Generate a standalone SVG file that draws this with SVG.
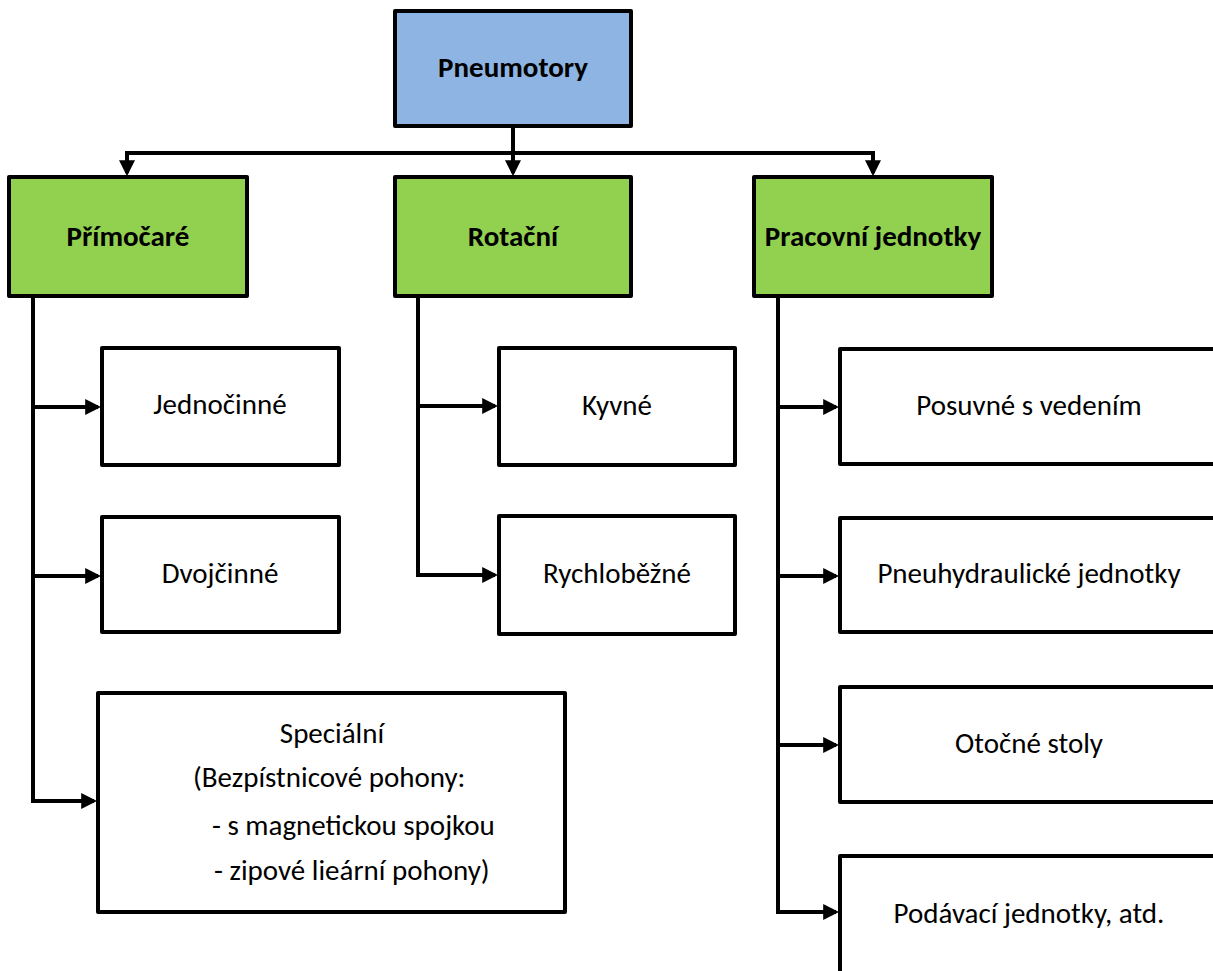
<svg xmlns="http://www.w3.org/2000/svg" width="1213" height="971" viewBox="0 0 1213 971">
  <defs>
    <marker id="arrow" markerWidth="4" markerHeight="4" refX="3.2" refY="2" orient="auto" markerUnits="strokeWidth">
      <path d="M0,0 L4,2 L0,4 Z" fill="#000"/>
    </marker>
    <style>
      .box { stroke: #000; stroke-width: 4; stroke-linejoin: round; }
      .root { fill: #8EB4E3; }
      .cat { fill: #92D050; }
      .leaf { fill: #FFFFFF; }
      .t { font-family: Carlito, Lato, "Open Sans", sans-serif; font-size: 29px; fill: #000; }
      .tb { font-weight: bold; text-anchor: middle; }
      .tc { text-anchor: middle; }
      .wire { fill: none; stroke: #000; stroke-width: 4; stroke-linejoin: miter; }
      .arr { marker-end: url(#arrow); }
    </style>
  </defs>
  <rect width="1213" height="971" fill="#FFFFFF"/>

  <!-- connectors -->
  <g id="connectors">
    <path class="wire" d="M127,153 H873"/>
    <path class="wire" d="M513,126 V153"/>
    <path class="wire arr" d="M127,151 V173"/>
    <path class="wire arr" d="M513,153 V173"/>
    <path class="wire arr" d="M873,151 V173"/>

    <!-- Přímočaré branch -->
    <path class="wire" d="M33,298 V801"/>
    <path class="wire arr" d="M31,407 H98"/>
    <path class="wire arr" d="M31,576 H98"/>
    <path class="wire arr" d="M31,801 H94"/>

    <!-- Rotační branch -->
    <path class="wire" d="M418,298 V575"/>
    <path class="wire arr" d="M416,406 H495"/>
    <path class="wire arr" d="M416,575 H495"/>

    <!-- Pracovní jednotky branch -->
    <path class="wire" d="M778,298 V912"/>
    <path class="wire arr" d="M776,407 H836"/>
    <path class="wire arr" d="M776,576 H836"/>
    <path class="wire arr" d="M776,745 H836"/>
    <path class="wire arr" d="M776,912 H836"/>
  </g>

  <!-- top level -->
  <g id="pneumotory">
    <rect class="box root" x="395" y="11" width="236" height="115"/>
    <text class="t tb" x="513" y="77">Pneumotory</text>
  </g>

  <!-- categories -->
  <g id="primocare">
    <rect class="box cat" x="9" y="177" width="238" height="119"/>
    <text class="t tb" x="128" y="246">Přímočaré</text>
  </g>
  <g id="rotacni">
    <rect class="box cat" x="395" y="177" width="236" height="119"/>
    <text class="t tb" x="513" y="246">Rotační</text>
  </g>
  <g id="pracovni-jednotky">
    <rect class="box cat" x="754" y="177" width="238" height="119"/>
    <text class="t tb" x="873" y="246">Pracovní jednotky</text>
  </g>

  <!-- Přímočaré children -->
  <g id="jednocinne">
    <rect class="box leaf" x="102" y="348" width="237" height="117"/>
    <text class="t tc" x="220" y="414">Jednočinné</text>
  </g>
  <g id="dvojcinne">
    <rect class="box leaf" x="102" y="517" width="237" height="115"/>
    <text class="t tc" x="220" y="583">Dvojčinné</text>
  </g>
  <g id="specialni">
    <rect class="box leaf" x="98" y="693" width="467" height="219"/>
    <text class="t tc" x="332" y="743">Speciální</text>
    <text class="t" x="193" y="787">(Bezpístnicové pohony:</text>
    <text class="t" x="212" y="835">- s magnetickou spojkou</text>
    <text class="t" x="214" y="880">- zipové lieární pohony)</text>
  </g>

  <!-- Rotační children -->
  <g id="kyvne">
    <rect class="box leaf" x="499" y="348" width="236" height="117"/>
    <text class="t tc" x="617" y="415">Kyvné</text>
  </g>
  <g id="rychlobezne">
    <rect class="box leaf" x="499" y="516" width="236" height="118"/>
    <text class="t tc" x="617" y="583">Rychloběžné</text>
  </g>

  <!-- Pracovní jednotky children -->
  <g id="posuvne">
    <rect class="box leaf" x="840" y="349" width="380" height="115"/>
    <text class="t tc" x="1029" y="415">Posuvné s vedením</text>
  </g>
  <g id="pneuhydraulicke">
    <rect class="box leaf" x="840" y="518" width="380" height="114"/>
    <text class="t tc" x="1029" y="583">Pneuhydraulické jednotky</text>
  </g>
  <g id="otocne-stoly">
    <rect class="box leaf" x="840" y="687" width="380" height="115"/>
    <text class="t tc" x="1029" y="753">Otočné stoly</text>
  </g>
  <g id="podavaci">
    <rect class="box leaf" x="840" y="856" width="380" height="130"/>
    <text class="t tc" x="1029" y="923">Podávací jednotky, atd.</text>
  </g>
</svg>
